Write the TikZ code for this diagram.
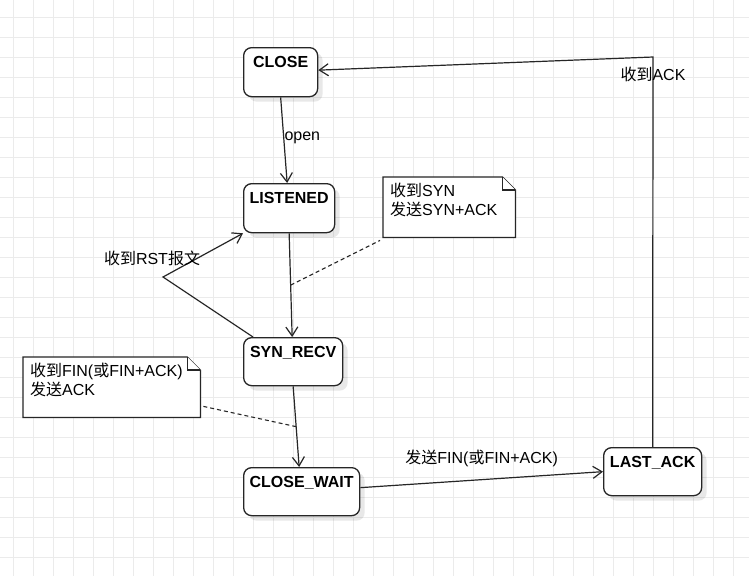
\documentclass[tikz,border=0pt]{standalone}
\usepackage{fontspec}
\setmainfont{Liberation Sans}
\newfontfamily\cjk{Noto Sans CJK SC}
\usetikzlibrary{arrows.meta,shadows}
\newcommand{\zh}[1]{{\cjk #1}}

\begin{document}
\begin{tikzpicture}[x=1pt,y=-1pt,
		font=\fontsize{16}{19}\selectfont,
		>={Straight Barb[length=9pt,width=12pt]},
		gridline/.style={draw=black!8,line width=0.8pt},
		edge/.style={draw=black!85,line width=1.2pt},
		hint/.style={draw=black!85,line width=1.1pt,dash pattern=on 4pt off 3pt},
		state/.style={draw=black!85,line width=1.3pt,fill=white,rounded corners=8pt,
			anchor=north west,minimum height=49pt,inner sep=0pt,
			drop shadow={shadow xshift=5pt,shadow yshift=-5pt,fill=black,opacity=0.09},
			label={[anchor=base,yshift=-20pt,inner sep=0pt,font=\fontsize{16}{19}\selectfont\bfseries]north:#1}},
		notearea/.style={anchor=north west,inner sep=0pt},
		notebox/.style={draw=black!85,line width=1.2pt,fill=white},
		notetext/.style={anchor=north west,inner sep=0pt,align=left},
		edgetext/.style={inner sep=0pt}]
		\fill[white] (0,0) rectangle (749,576);
		\useasboundingbox (0,0) rectangle (749,576);
		
		\foreach \x in {13,33,...,733}
			\draw[gridline] (\x,0) -- (\x,576);
		\foreach \y in {17,37,...,557}
			\draw[gridline] (0,\y) -- (749,\y);
		
		\node[state=CLOSE,minimum width=74pt] (close) at (243,47) {};
		\node[state=LISTENED,minimum width=91pt] (listened) at (243,183) {};
		\node[state=SYN\_RECV,minimum width=99pt,minimum height=48pt] (synrecv) at (243,337) {};
		\node[state=CLOSE\_WAIT,minimum width=116pt,minimum height=48pt] (closewait) at (243,467) {};
		\node[state=LAST\_ACK,minimum width=98pt,minimum height=48pt] (lastack) at (603,447) {};
		
		\node[notearea,minimum width=132pt,minimum height=60pt] (note1) at (383,177) {};
		\draw[notebox] (note1.north west) -- ([xshift=-13pt]note1.north east) -- ([yshift=-13pt]note1.north east) -- (note1.south east) -- (note1.south west) -- cycle;
		\draw[notebox] ([xshift=-13pt]note1.north east) -- ([xshift=-13pt,yshift=-13pt]note1.north east) -- ([yshift=-13pt]note1.north east);
		\node[notetext] (note1txt) at ([xshift=7pt,yshift=-6pt]note1.north west) {\zh{收到}SYN\\\zh{发送}SYN+ACK};
		
		\node[notearea,minimum width=177pt,minimum height=60pt] (note2) at (23,357) {};
		\draw[notebox] (note2.north west) -- ([xshift=-13pt]note2.north east) -- ([yshift=-13pt]note2.north east) -- (note2.south east) -- (note2.south west) -- cycle;
		\draw[notebox] ([xshift=-13pt]note2.north east) -- ([xshift=-13pt,yshift=-13pt]note2.north east) -- ([yshift=-13pt]note2.north east);
		\node[notetext] (note2txt) at ([xshift=7pt,yshift=-6pt]note2.north west) {\zh{收到}FIN(\zh{或}FIN+ACK)\\\zh{发送}ACK};
		
		\coordinate (rstbend) at (163,277);
		\coordinate (ackbend) at (653,57);
		
		\draw[edge,->] (close.south) -- node[edgetext,anchor=base west] (openlbl) {open} ([xshift=-2pt]listened.north);
		\draw[edge,->] (listened.south) -- coordinate[midway] (m1) ([xshift=-1pt]synrecv.north);
		\draw[edge,->] ([xshift=10pt]synrecv.north west) -- (rstbend) node[edgetext,anchor=base,xshift=-11pt,yshift=13pt] (rstlbl) {\zh{收到}RST\zh{报文}} -- (listened.south west);
		\draw[edge,->] (synrecv.south) -- coordinate[midway] (m2) ([xshift=-2.5pt]closewait.north);
		\draw[edge,->] ([yshift=4pt]closewait.east) -- node[edgetext,anchor=base,yshift=16pt] (finlbl) {\zh{发送}FIN(\zh{或}FIN+ACK)} (lastack.west);
		\draw[edge,->] (lastack.north) -- (ackbend) node[edgetext,anchor=base,yshift=-23pt] (acklbl) {\zh{收到}ACK} -- ([yshift=2pt]close.east);
		
		\draw[hint] (m1) -- ([xshift=-3pt,yshift=-3pt]note1.south west);
		\draw[hint] (m2) -- ([xshift=3pt,yshift=11pt]note2.south east);
	\end{tikzpicture}
\end{document}
